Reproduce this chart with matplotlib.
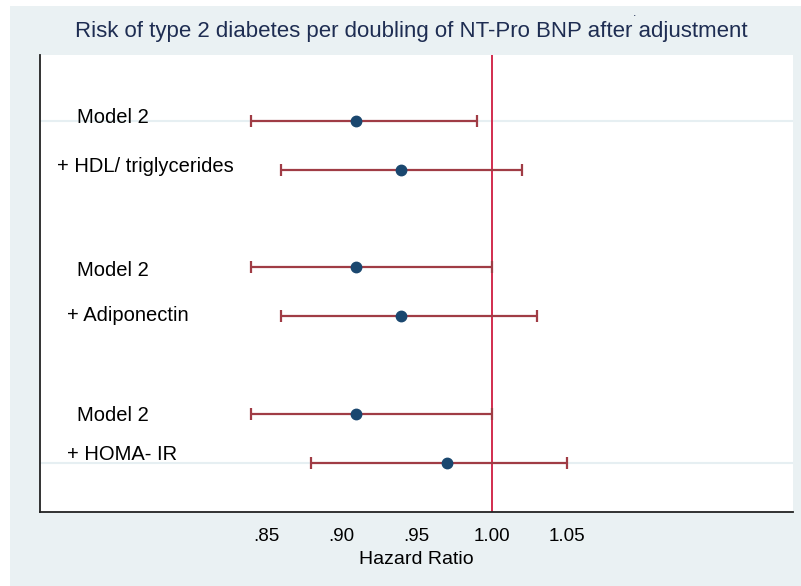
import matplotlib.pyplot as plt
from matplotlib.patches import Rectangle

plt.rcParams['font.family'] = ['Liberation Sans', 'DejaVu Sans']

# Hazard ratios per doubling of NT-Pro BNP, three adjustment pairs
labels = ["Model 2", "+ HDL/ triglycerides", "Model 2", "+ Adiponectin", "Model 2", "+ HOMA- IR"]
hr = [0.91, 0.94, 0.91, 0.94, 0.91, 0.97]
ci_low = [0.84, 0.86, 0.84, 0.86, 0.84, 0.88]
ci_high = [0.99, 1.02, 1.00, 1.03, 1.00, 1.05]
rows = [8, 7, 5, 4, 2, 1]

xticks = [0.85, 0.90, 0.95, 1.00, 1.05]
xtick_labels = [".85", ".90", ".95", "1.00", "1.05"]

# label placement (data coords, text baseline)
label_x = [0.7248, 0.7115, 0.7248, 0.718, 0.7248, 0.718]
label_y = [7.95, 6.96, 4.83, 3.90, 1.86, 1.05]

bg = '#eaf1f3'
fig = plt.figure(figsize=(8.01, 5.86), dpi=100)
fig.patch.set_facecolor('white')
rect = Rectangle((10 / 801, 0), 1, 1 - 6 / 586, transform=fig.transFigure,
                 facecolor=bg, edgecolor='none', zorder=-10)
fig.add_artist(rect)

ax = fig.add_axes([40 / 801, 1 - 511.5 / 586, 753 / 801, 456.5 / 586])
ax.set_zorder(1)
ax.set_facecolor('white')

xerr = [[h - l for h, l in zip(hr, ci_low)], [u - h for h, u in zip(hr, ci_high)]]
ax.errorbar(hr, rows, xerr=xerr, fmt='none', ecolor='#a03c45', elinewidth=1.6,
            capsize=4.5, capthick=1.6, zorder=3)
ax.plot(hr, rows, 'o', color='#1a476f', markersize=7.5, zorder=4)
ax.axvline(1.0, color='#d22c4e', lw=1.4, zorder=2)

for t, x, y in zip(labels, label_x, label_y):
    ax.text(x, y, t, fontsize=14.5, va='baseline', ha='left', color='black')

ax.set_xlim(0.70, 1.20)
ax.set_ylim(0.0, 9.35)
ax.set_xticks(xticks)
ax.set_xticklabels(xtick_labels, fontsize=13.5)
ax.set_yticks([1, 8])
ax.set_yticklabels([])
ax.tick_params(axis='both', length=0)
ax.tick_params(axis='x', pad=12)
ax.yaxis.grid(True, color='#e6eff2', lw=1.5, zorder=0)
ax.set_axisbelow(True)
ax.set_xlabel("Hazard Ratio", fontsize=14, labelpad=4)

for s in ['top', 'right']:
    ax.spines[s].set_visible(False)
for s in ['left', 'bottom']:
    ax.spines[s].set_color('#222222')
    ax.spines[s].set_linewidth(1.3)

fig.text(411 / 801, 1 - 31 / 586, "Risk of type 2 diabetes per doubling of NT-Pro BNP after adjustment",
         ha='center', va='center', fontsize=16, color='#1e2d52')
fig.text(635 / 801, 1 - 13 / 586, ".", ha='center', va='center', fontsize=9, color='#1e2d52')

fig.savefig('out.png', dpi=100, facecolor=fig.get_facecolor())
